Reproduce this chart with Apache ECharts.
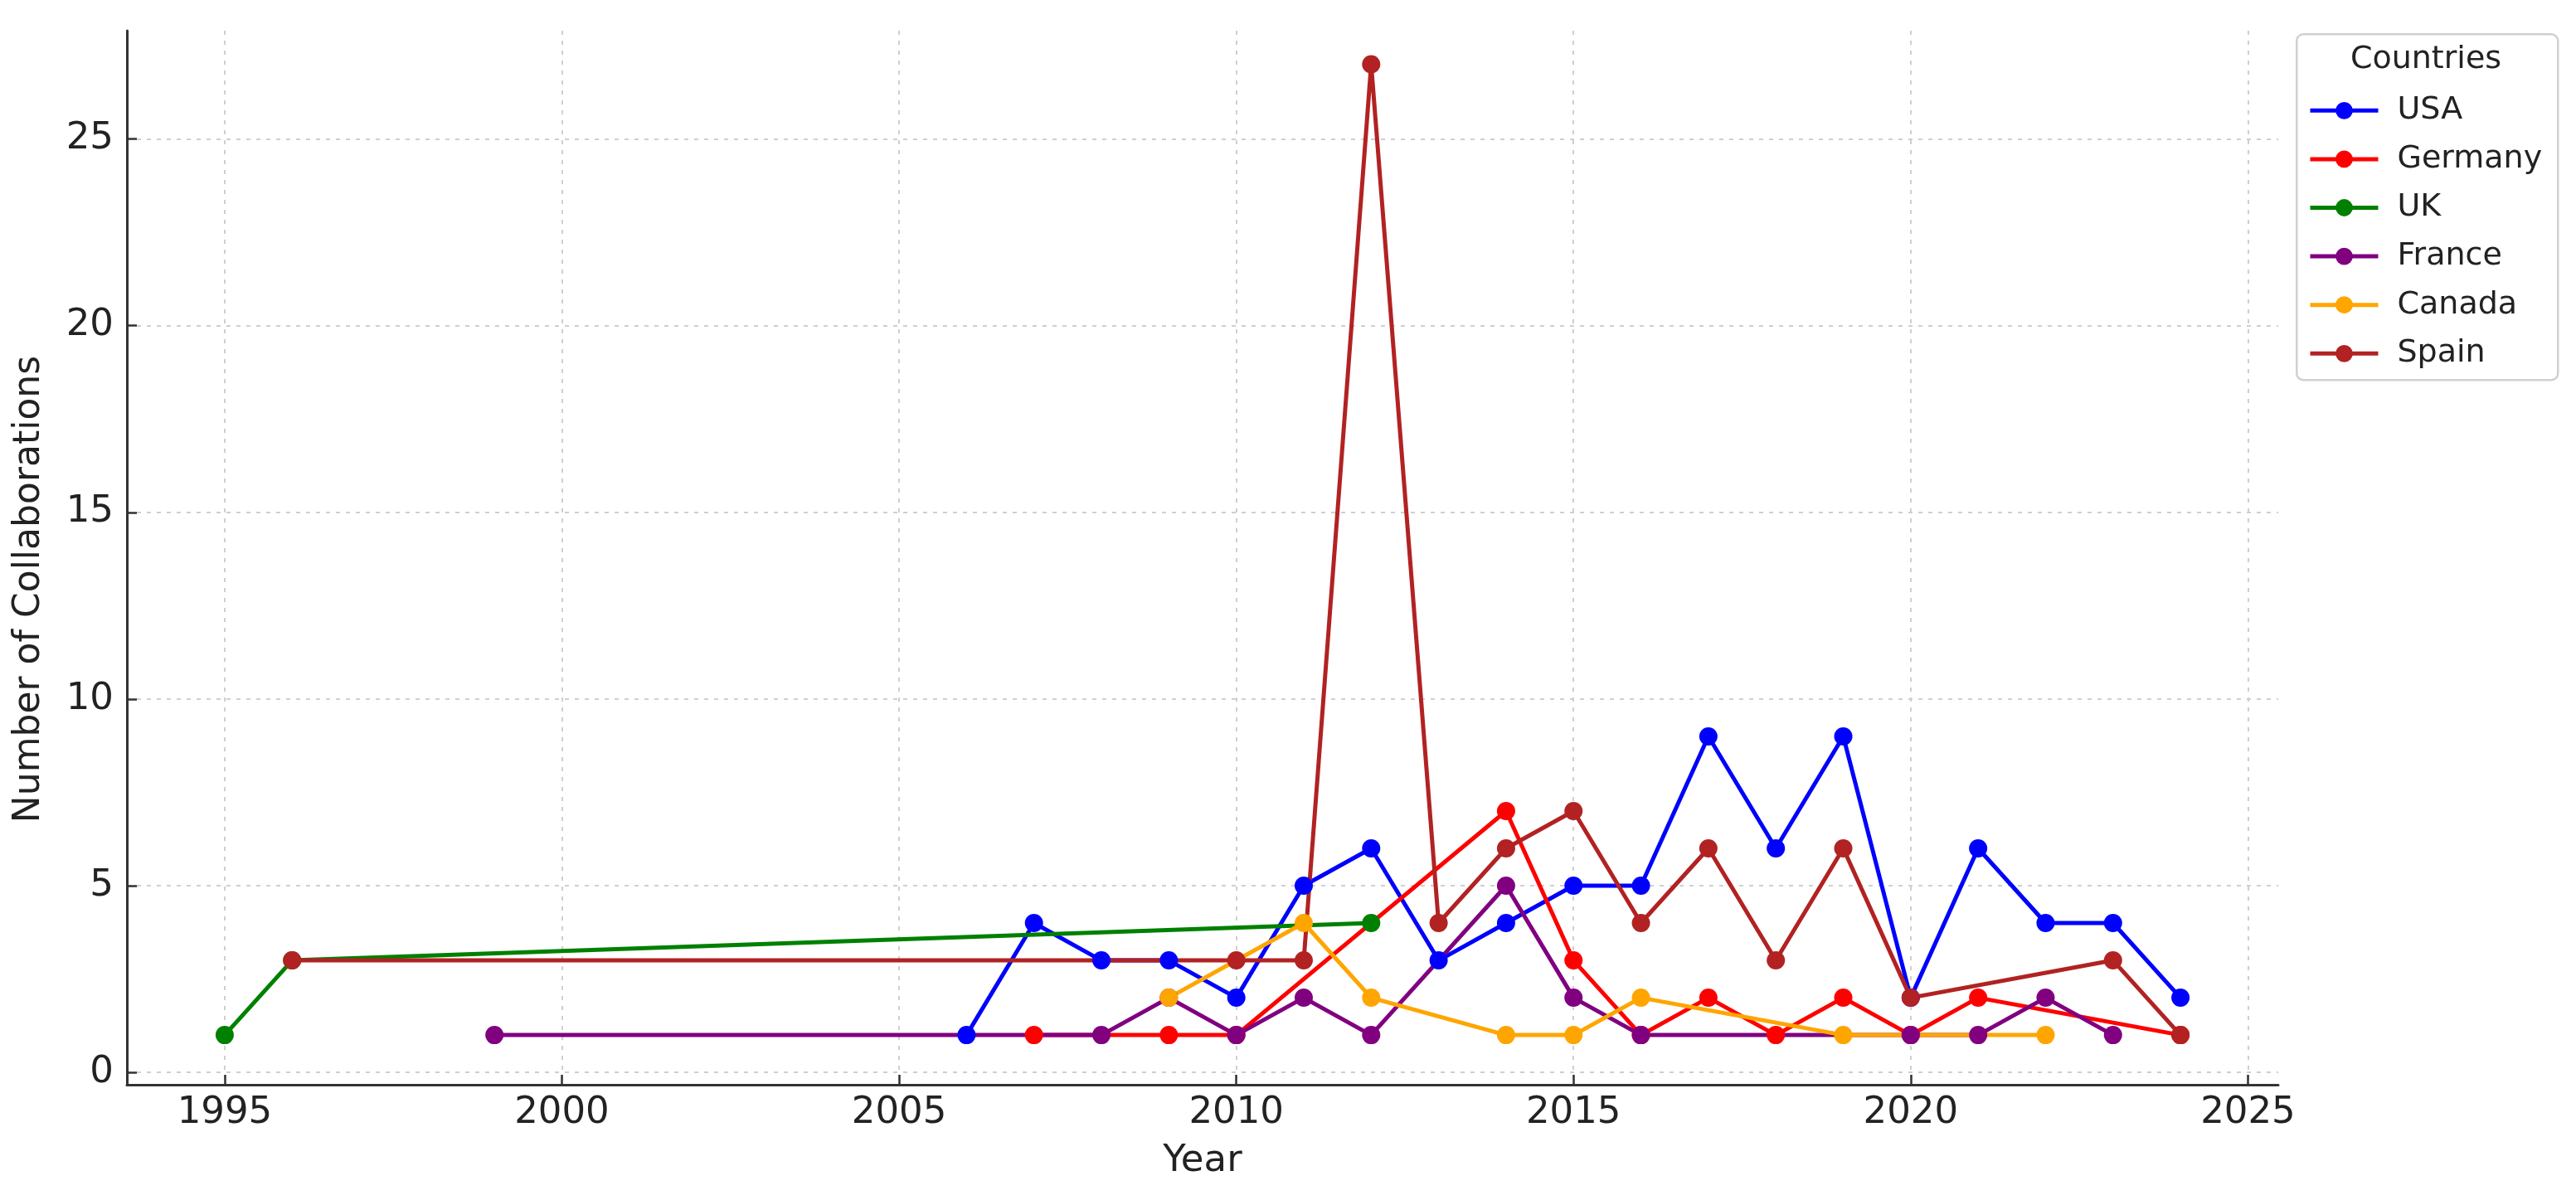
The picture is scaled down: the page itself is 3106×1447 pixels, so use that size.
<!DOCTYPE html>
<html>
<head>
<meta charset="utf-8">
<script src="https://cdn.jsdelivr.net/npm/echarts@6/dist/echarts.min.js"></script>
<style>
html,body{margin:0;padding:0;background:#fff;}
#chart{width:3106px;height:1447px;}
</style>
</head>
<body>
<div id="chart"></div>
<script>
// ---- data ----
const countries = ['USA', 'Germany', 'UK', 'France', 'Canada', 'Spain'];
const colors = ['#0000ff', '#ff0000', '#008000', '#800080', '#ffa500', '#b22222'];

const usaYears = [2006, 2007, 2008, 2009, 2010, 2011, 2012, 2013, 2014, 2015, 2016, 2017, 2018, 2019, 2020, 2021, 2022, 2023, 2024];
const usaValues = [1, 4, 3, 3, 2, 5, 6, 3, 4, 5, 5, 9, 6, 9, 2, 6, 4, 4, 2];

const germanyYears = [2007, 2009, 2010, 2014, 2015, 2016, 2017, 2018, 2019, 2020, 2021, 2024];
const germanyValues = [1, 1, 1, 7, 3, 1, 2, 1, 2, 1, 2, 1];

const ukYears = [1995, 1996, 2012];
const ukValues = [1, 3, 4];

const franceYears = [1999, 2008, 2009, 2010, 2011, 2012, 2014, 2015, 2016, 2020, 2021, 2022, 2023];
const franceValues = [1, 1, 2, 1, 2, 1, 5, 2, 1, 1, 1, 2, 1];

const canadaYears = [2009, 2011, 2012, 2014, 2015, 2016, 2019, 2022];
const canadaValues = [2, 4, 2, 1, 1, 2, 1, 1];

const spainYears = [1996, 2010, 2011, 2012, 2013, 2014, 2015, 2016, 2017, 2018, 2019, 2020, 2023, 2024];
const spainValues = [3, 3, 3, 27, 4, 6, 7, 4, 6, 3, 6, 2, 3, 1];

const xTicks = [1995, 2000, 2005, 2010, 2015, 2020, 2025];
const yTicks = [0, 5, 10, 15, 20, 25];

const seriesYears = [usaYears, germanyYears, ukYears, franceYears, canadaYears, spainYears];
const seriesValues = [usaValues, germanyValues, ukValues, franceValues, canadaValues, spainValues];

// ---- chart ----
const chart = echarts.init(document.getElementById('chart'), null, {renderer: 'canvas'});
const FONT = 'DejaVu Sans';

const series = countries.map((name, i) => ({
  name: name,
  type: 'line',
  data: seriesYears[i].map((y, j) => [y, seriesValues[i][j]]),
  symbol: 'circle',
  symbolSize: 22,
  showSymbol: true,
  lineStyle: {color: colors[i], width: 5},
  itemStyle: {color: colors[i]},
  emphasis: {disabled: true},
  animation: false
}));

const option = {
  backgroundColor: '#ffffff',
  animation: false,
  grid: {left: 153, top: 37, width: 2594, height: 1271, containLabel: false, outerBoundsMode: 'none'},
  xAxis: {
    type: 'value',
    min: 1993.55,
    max: 2025.45,
    name: 'Year',
    nameLocation: 'middle',
    nameGap: 70,
    nameTextStyle: {fontFamily: FONT, fontSize: 45, color: '#222'},
    axisLine: {show: true, onZero: false, lineStyle: {color: '#333', width: 3}},
    axisTick: {show: true, inside: true, length: 12, customValues: xTicks, lineStyle: {color: '#333', width: 2.5}},
    axisLabel: {customValues: xTicks, fontFamily: FONT, fontSize: 45, color: '#222', margin: 12, formatter: v => String(v)},
    splitLine: {show: true, lineStyle: {color: '#cfcfcf', width: 2, type: [5, 7]}}
  },
  yAxis: {
    type: 'value',
    min: -0.33,
    max: 27.9,
    name: 'Number of Collaborations',
    nameLocation: 'middle',
    nameGap: 95,
    nameTextStyle: {fontFamily: FONT, fontSize: 44, color: '#222', padding: [0, 76, 0, 0]},
    axisLine: {show: true, onZero: false, lineStyle: {color: '#333', width: 3}},
    axisTick: {show: true, inside: true, length: 12, customValues: yTicks, lineStyle: {color: '#333', width: 2.5}},
    axisLabel: {customValues: yTicks, fontFamily: FONT, fontSize: 45, color: '#222', margin: 16},
    splitLine: {show: true, lineStyle: {color: '#cfcfcf', width: 2, type: [5, 7]}}
  },
  legend: {
    orient: 'vertical',
    left: 2778,
    top: 109,
    itemWidth: 82,
    itemHeight: 26,
    itemGap: 20,
    data: countries,
    lineStyle: {width: 5},
    textStyle: {fontFamily: FONT, fontSize: 38, color: '#222', lineHeight: 38.6, padding: [0, 0, 0, 18]},
    selectedMode: false
  },
  graphic: [
    {
      type: 'rect',
      left: 2768, top: 40,
      shape: {width: 315, height: 417, r: 8},
      style: {fill: 'rgba(255,255,255,0.8)', stroke: '#d0d0d0', lineWidth: 2.5},
      z: -1
    },
    {
      type: 'text',
      style: {text: 'Countries', fontFamily: FONT, fontSize: 38, fill: '#222', x: 2925, y: 72, align: 'center', verticalAlign: 'middle'}
    }
  ],
  series: series
};
chart.setOption(option);
</script>
</body>
</html>
